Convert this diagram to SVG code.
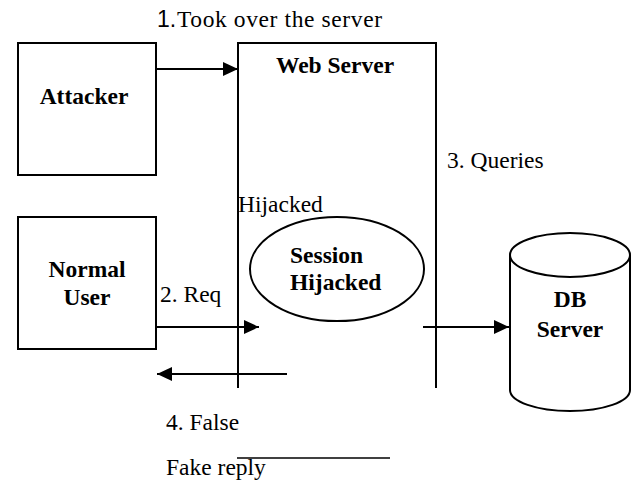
<svg xmlns="http://www.w3.org/2000/svg" width="637" height="482" viewBox="0 0 637 482">
  <style>
    .box { fill: #fff; stroke: #000; stroke-width: 2; }
    .ln { fill: none; stroke: #000; stroke-width: 2; }
    text { font-family: 'Liberation Serif', 'Times New Roman', Times, serif; font-size: 23.5px; fill: #000; }
    .bold { font-weight: bold; }
    .mid { text-anchor: middle; }
    .sans { font-family: 'Liberation Sans', Arial, sans-serif; font-size: 23px; }
  </style>
  <defs>
    <marker id="arrow" markerUnits="userSpaceOnUse" markerWidth="16" markerHeight="14" refX="15" refY="7" orient="auto">
      <path d="M0,0 L15,7 L0,14 z" fill="#000"/>
    </marker>
  </defs>

  <rect width="637" height="482" fill="#fff"/>

  <!-- web server: open-bottom frame -->
  <g id="web-server">
    <path class="ln" d="M238,388 L238,43 L436,43 L436,388"/>
    <text class="bold mid" x="335" y="73">Web Server</text>
    <text x="238" y="212">Hijacked</text>
  </g>

  <g id="session">
    <ellipse class="box" cx="337" cy="269" rx="87" ry="52" stroke-width="1.8"/>
    <text class="bold" x="290" y="263">Session</text>
    <text class="bold" x="290" y="290">Hijacked</text>
  </g>

  <g id="attacker">
    <rect class="box" x="18" y="43" width="138" height="132"/>
    <text class="bold mid" x="84" y="104">Attacker</text>
  </g>

  <g id="normal-user">
    <rect class="box" x="18" y="217" width="138" height="132"/>
    <text class="bold mid" x="87" y="277">Normal</text>
    <text class="bold mid" x="87" y="305">User</text>
  </g>

  <g id="db-server">
    <path class="box" d="M510,255 L510,390 A60,21 0 0 0 630,390 L630,255"/>
    <ellipse class="box" cx="570" cy="255" rx="60" ry="22"/>
    <text class="bold mid" x="570" y="307">DB</text>
    <text class="bold mid" x="570" y="337">Server</text>
  </g>

  <g id="connectors">
    <line class="ln" x1="156" y1="69" x2="238" y2="69" marker-end="url(#arrow)"/>
    <line class="ln" x1="156" y1="327" x2="259" y2="327" marker-end="url(#arrow)"/>
    <line class="ln" x1="423" y1="327" x2="509" y2="327" marker-end="url(#arrow)"/>
    <line class="ln" x1="287" y1="374" x2="157" y2="374" marker-end="url(#arrow)"/>
    <line x1="237" y1="458" x2="390" y2="458" stroke="#000" stroke-width="1.5"/>
  </g>

  <g id="labels">
    <text class="sans" x="157" y="27">1.</text>
    <text x="177" y="27" textLength="205" lengthAdjust="spacing">Took over the server</text>
    <text x="160" y="302">2. Req</text>
    <text x="447" y="168">3. Queries</text>
    <text x="166" y="430">4. False</text>
    <text x="166" y="475">Fake reply</text>
  </g>
</svg>
